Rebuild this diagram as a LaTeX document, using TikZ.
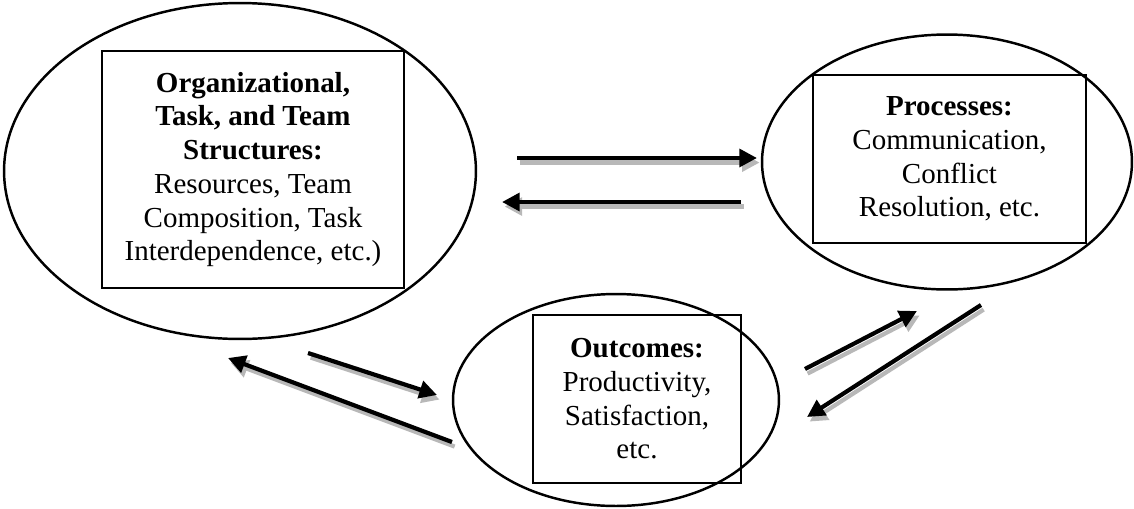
\documentclass[tikz,border=0pt]{standalone}
\usepackage{fontspec}
\setmainfont{Liberation Serif}
\usepackage{tikz}
\usetikzlibrary{positioning,shapes.geometric,arrows.meta}

\begin{document}
\begin{tikzpicture}[x=0.02cm, y=-0.02cm,
  every node/.style={font=\fontsize{16.5}{19.2}\selectfont},
  blob/.style={draw, ellipse, line width=1.4pt, inner sep=0pt},
  card/.style={draw, rectangle, line width=1.1pt, align=center, inner sep=0pt},
  flow/.style={line width=2.4pt, -{Triangle[length=10pt,width=10pt]},
    preaction={draw=black!28, line width=2.4pt, transform canvas={shift={(1.5pt,-2.6pt)}}}}]
\useasboundingbox (0,0) rectangle (1134,508);

\node[blob, minimum width=9.44cm, minimum height=6.72cm] (orgE) at (240,171) {};
\node[blob, minimum width=7.4cm, minimum height=5.1cm] (procE) at (947,162) {};
\node[blob, minimum width=6.52cm, minimum height=4.24cm] (outE) at (616,400) {};

\node[card, minimum width=6.04cm, minimum height=4.74cm] (org) at (253,169.5)
  {\textbf{Organizational,}\\ \textbf{Task, and Team}\\ \textbf{Structures:}\\ Resources, Team\\ Composition, Task\\ Interdependence, etc.)};
\node[card, minimum width=5.46cm, minimum height=3.36cm] (proc) at (949.5,159)
  {\textbf{Processes:}\\ Communication,\\ Conflict\\ Resolution, etc.};
\node[card, minimum width=4.16cm, minimum height=3.36cm] (out) at (637,399)
  {\textbf{Outcomes:}\\ Productivity,\\ Satisfaction,\\ etc.};

\coordinate (a1s) at (517,158); \coordinate (a1e) at (757,158);
\coordinate (a2s) at (741,202); \coordinate (a2e) at (502,202);
\coordinate (a3s) at (308,353); \coordinate (a3e) at (437,395);
\coordinate (a4s) at (452,442); \coordinate (a4e) at (228,358);
\coordinate (a5s) at (805,369); \coordinate (a5e) at (917,311);
\coordinate (a6s) at (981,305); \coordinate (a6e) at (807,417);

\draw[flow] (a1s) -- (a1e);
\draw[flow] (a2s) -- (a2e);
\draw[flow] (a3s) -- (a3e);
\draw[flow] (a4s) -- (a4e);
\draw[flow] (a5s) -- (a5e);
\draw[flow] (a6s) -- (a6e);
\end{tikzpicture}
\end{document}
